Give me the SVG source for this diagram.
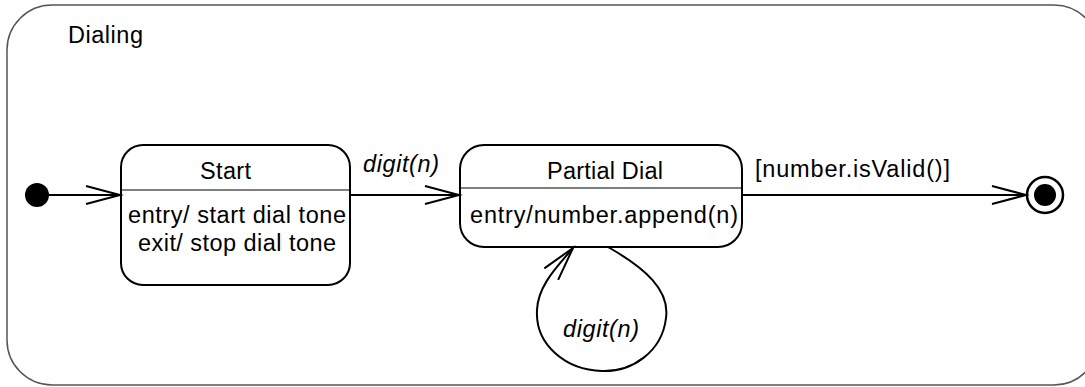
<svg xmlns="http://www.w3.org/2000/svg" width="1085" height="387" viewBox="0 0 1085 387">
<style>
text{font-family:"Liberation Sans",Arial,sans-serif;font-size:23.5px;fill:#000}
.it{font-style:italic}
.st{fill:#fff;stroke:#000;stroke-width:2}
.dv{stroke:#000;stroke-width:1.2}
.ln{fill:none;stroke:#000;stroke-width:2}
</style>
<defs>
<marker id="open" markerUnits="userSpaceOnUse" markerWidth="40" markerHeight="24" viewBox="-36 -12 40 24" refX="0" refY="0" orient="auto" overflow="visible">
<path d="M-34,-9 L0,0 L-34,9" fill="none" stroke="#000" stroke-width="2"/>
</marker>
</defs>
<rect x="7" y="5" width="1092" height="380" rx="45" ry="45" fill="#fff" stroke="#555" stroke-width="1.5"/>
<text x="68" y="43" textLength="75" lengthAdjust="spacing">Dialing</text>
<g id="initial"><circle cx="37" cy="195" r="12" fill="#000"/></g>
<g id="start">
<rect class="st" x="121" y="145" width="229" height="140" rx="22" ry="22"/>
<line class="dv" x1="121" y1="190" x2="350" y2="190"/>
<text x="200" y="179" textLength="51" lengthAdjust="spacing">Start</text>
<text x="128" y="223" textLength="218" lengthAdjust="spacing">entry/ start dial tone</text>
<text x="138" y="251" textLength="198" lengthAdjust="spacing">exit/ stop dial tone</text>
</g>
<g id="partial">
<rect class="st" x="460" y="145" width="282" height="102" rx="24" ry="24"/>
<line class="dv" x1="460" y1="188" x2="742" y2="188"/>
<text x="547" y="179" textLength="116" lengthAdjust="spacing">Partial Dial</text>
<text x="470" y="223" textLength="268" lengthAdjust="spacing">entry/number.append(n)</text>
</g>
<g id="final">
<circle cx="1045" cy="195" r="18" fill="#fff" stroke="#000" stroke-width="2.5"/>
<circle cx="1045" cy="195" r="11" fill="#000"/>
</g>
<g id="connectors">
<line class="ln" x1="49" y1="195" x2="120" y2="195" marker-end="url(#open)"/>
<line class="ln" x1="350" y1="195" x2="459" y2="195" marker-end="url(#open)"/>
<line class="ln" x1="742" y1="195" x2="1026" y2="195" marker-end="url(#open)"/>
<path class="ln" d="M608,247 C645,268 670,290 666,318 C662,352 632,372 602,371 C566,370 535,345 537,310 C538,285 558,266 573,248" marker-end="url(#open)"/>
<text class="it" x="363" y="172" textLength="76" lengthAdjust="spacing">digit(n)</text>
<text x="755" y="177" textLength="195" lengthAdjust="spacing">[number.isValid()]</text>
<text class="it" x="563" y="337" textLength="76" lengthAdjust="spacing">digit(n)</text>
</g>
</svg>
